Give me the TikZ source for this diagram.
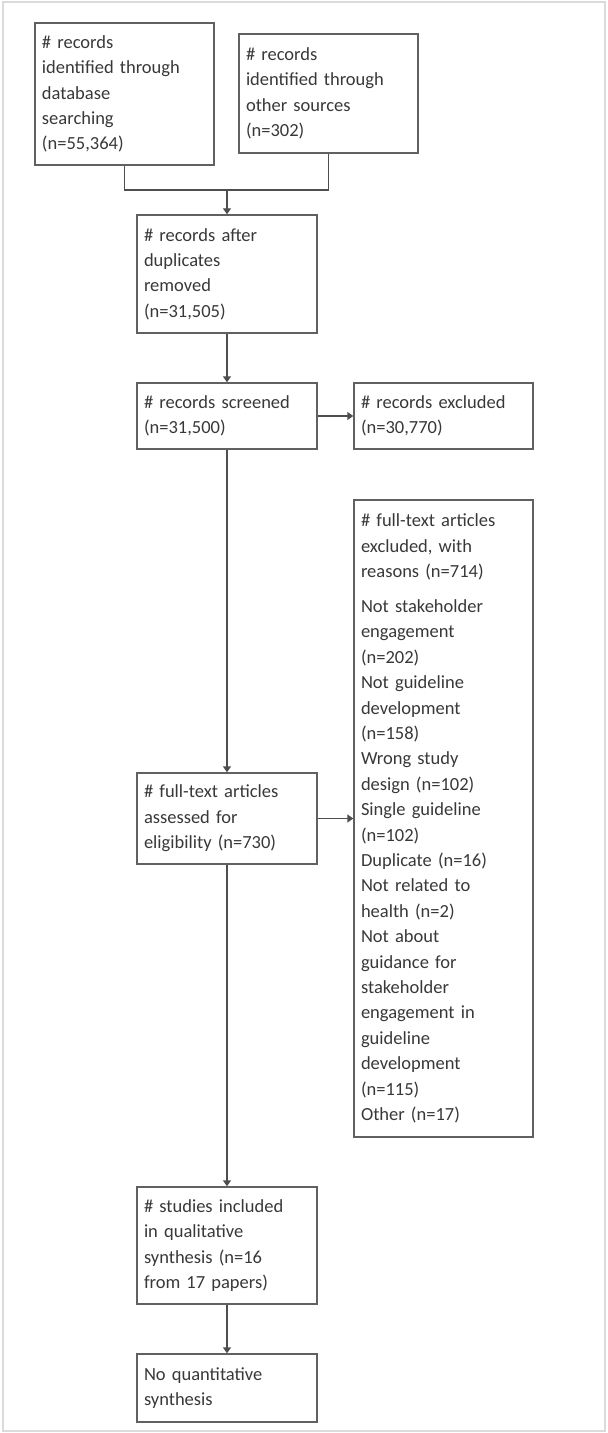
\documentclass[tikz,border=0pt]{standalone}
\usepackage{fontspec}
\setmainfont{Carlito}
\usetikzlibrary{arrows.meta}
\definecolor{boxline}{gray}{0.38}
\definecolor{txt}{gray}{0.22}
\definecolor{frame}{gray}{0.86}
\tikzset{
  box/.style={draw=boxline, line width=1.4bp, inner xsep=7bp, inner ysep=0bp,
    align=left, text=txt, font=\fontsize{18.5bp}{25.4bp}\selectfont,
    anchor=center},
  conn/.style={draw=boxline!80!black, line width=1.4bp},
  arr/.style={conn, -{Triangle[width=8bp,length=6bp]}}
}
\begin{document}
\begin{tikzpicture}[x=1bp,y=-1bp]
\useasboundingbox (0,0) rectangle (608,1433);
\draw[frame, line width=2bp] (3,2.5) rectangle (605,1430.5);

\node[box, text width=165bp, minimum width=179bp, minimum height=142bp] (b1) at (124.5,94)
 {\# records\\identified through\\database\\searching\\(n=55,364)};
\node[box, text width=165bp, minimum width=179bp, minimum height=119bp] (b2) at (328.5,93.5)
 {\# records\\identified through\\other sources\\(n=302)};
\node[box, text width=166bp, minimum width=180bp, minimum height=118bp] (b3) at (227,274)
 {\# records after\\duplicates\\removed\\(n=31,505)};
\node[box, text width=166bp, minimum width=180bp, minimum height=66bp] (b4) at (227,416)
 {\# records screened\\(n=31,500)};
\node[box, text width=165bp, minimum width=179bp, minimum height=66bp] (b5) at (443.5,416)
 {\# records excluded\\(n=30,770)};
\node[box, text width=165bp, minimum width=179bp, minimum height=637bp] (b6) at (443.5,818.5)
 {\# full-text articles\\excluded, with\\reasons (n=714)\\[9.5bp]
  Not stakeholder\\engagement\\(n=202)\\Not guideline\\development\\(n=158)\\
  Wrong study\\design (n=102)\\Single guideline\\(n=102)\\Duplicate (n=16)\\
  Not related to\\health (n=2)\\Not about\\guidance for\\stakeholder\\
  engagement in\\guideline\\development\\(n=115)\\Other (n=17)};
\node[box, text width=166bp, minimum width=180bp, minimum height=91bp] (b7) at (227,818.5)
 {\# full-text articles\\assessed for\\eligibility (n=730)};
\node[box, text width=166bp, minimum width=180bp, minimum height=117bp] (b8) at (227,1245.5)
 {\# studies included\\in qualitative\\synthesis (n=16\\from 17 papers)};
\node[box, text width=166bp, minimum width=180bp, minimum height=68bp] (b9) at (227,1388)
 {No quantitative\\synthesis};

\coordinate (m1) at (124.5,190);
\coordinate (m2) at (328.5,190);
\coordinate (mj) at (227,190);
\draw[conn] (b1.south) -- (m1) -- (m2) -- (b2.south);
\draw[arr] (mj) -- (b3.north);
\draw[arr] (b3) -- (b4);
\draw[arr] (b4) -- (b5);
\draw[arr] (b4) -- (b7);
\draw[arr] (b7.east) -- (b7.east -| b6.west);
\draw[arr] (b7) -- (b8);
\draw[arr] (b8) -- (b9);
\end{tikzpicture}
\end{document}
